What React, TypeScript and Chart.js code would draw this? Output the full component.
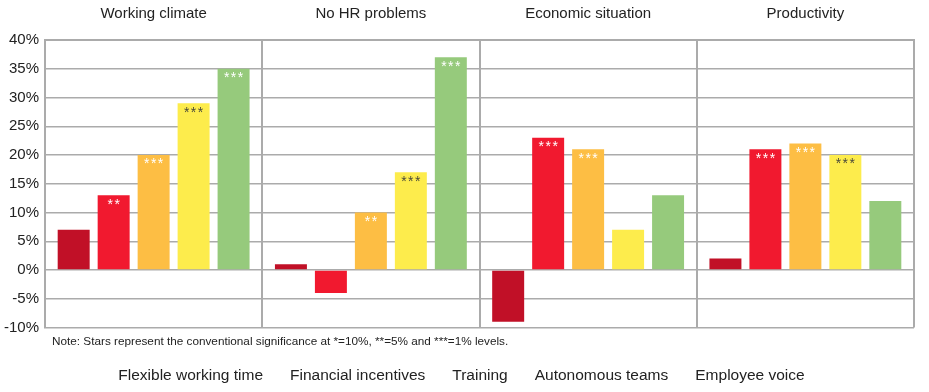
import React, { useEffect, useRef } from "react";
import { Chart, registerables } from "chart.js";

Chart.register(...registerables);

const groups = ["Working climate", "No HR problems", "Economic situation", "Productivity"];
const seriesNames = ["Flexible working time", "Financial incentives", "Training", "Autonomous teams", "Employee voice"];
const seriesColors = ["#C11027", "#F1192F", "#FDBE44", "#FDEC4C", "#96CA7C"];
const flexibleWorkingTime = [7, 1, -9, 2];
const financialIncentives = [13, -4, 23, 21];
const training = [20, 10, 21, 22];
const autonomousTeams = [29, 17, 7, 20];
const employeeVoice = [35, 37, 13, 12];
const seriesValues = [flexibleWorkingTime, financialIncentives, training, autonomousTeams, employeeVoice];
const stars = [
  ["", "", "", ""],
  ["**", "", "***", "***"],
  ["***", "**", "***", "***"],
  ["***", "***", "", "***"],
  ["***", "***", "", ""],
];
const starColors = ["#ffffff", "#ffffff", "#ffffff", "#4a4a3a", "#ffffff"];
const yTicks = { min: -10, max: 40, step: 5 };
const note = "Note: Stars represent the conventional significance at *=10%, **=5% and ***=1% levels.";

const FONT = "'Liberation Sans', Arial, sans-serif";
const GRID = "#ababab";
const TEXT = "#222";

const starPlugin = {
  id: "stars",
  afterDatasetsDraw(chart: any) {
    const ctx = chart.ctx;
    ctx.save();
    ctx.font = `14px ${FONT}`;
    ctx.textAlign = "center";
    ctx.textBaseline = "top";
    try { (ctx as any).letterSpacing = "1.5px"; } catch (e) {}
    chart.data.datasets.forEach((ds: any, i: number) => {
      const meta = chart.getDatasetMeta(i);
      meta.data.forEach((el: any, j: number) => {
        const s = stars[i][j];
        if (!s) return;
        ctx.fillStyle = starColors[i];
        ctx.fillText(s, el.x + 0.75, el.y + 2.5);
      });
    });
    ctx.restore();
  },
};

const notePlugin = {
  id: "noteAndLegend",
  afterDraw(chart: any) {
    const ctx = chart.ctx;
    const area = chart.chartArea;
    ctx.save();
    ctx.fillStyle = TEXT;
    ctx.textBaseline = "middle";
    ctx.textAlign = "left";
    ctx.font = `11.75px ${FONT}`;
    ctx.fillText(note, area.left + 7, area.bottom + 14);
    // legend (text only)
    ctx.font = `15.5px ${FONT}`;
    const gap = 27;
    const widths = seriesNames.map((n) => ctx.measureText(n).width);
    const total = widths.reduce((a, b) => a + b, 0) + gap * (seriesNames.length - 1);
    let x = chart.width / 2 - 3 - total / 2;
    seriesNames.forEach((n, i) => {
      ctx.fillText(n, x, area.bottom + 48.5);
      x += widths[i] + gap;
    });
    ctx.restore();
  },
};

export default function App() {
  const ref = useRef<HTMLCanvasElement>(null);
  useEffect(() => {
    document.body.style.margin = "0";
    const chart = new Chart(ref.current!, {
      type: "bar",
      data: {
        labels: groups,
        datasets: seriesNames.map((name, i) => ({
          label: name,
          data: seriesValues[i],
          backgroundColor: seriesColors[i],
          borderWidth: 0,
          barPercentage: 0.8,
          categoryPercentage: 0.92,
        })),
      },
      options: {
        animation: false,
        responsive: false,
        maintainAspectRatio: false,
        layout: { padding: { left: 0, right: 15, top: 0, bottom: 64.5 } },
        scales: {
          x: {
            position: "top",
            grid: { offset: true, color: GRID, lineWidth: 2, drawTicks: false },
            border: { display: true, color: GRID, width: 2 },
            ticks: { font: { family: FONT, size: 15 }, color: TEXT, padding: 17 },
            afterFit(scale: any) { scale.height = 40; },
          },
          y: {
            min: yTicks.min,
            max: yTicks.max,
            ticks: {
              stepSize: yTicks.step,
              callback: (v: any) => v + "%",
              font: { family: FONT, size: 15 },
              color: TEXT,
              padding: 6,
            },
            grid: { color: GRID, lineWidth: 1.5, drawTicks: false },
            border: { display: true, color: GRID, width: 2 },
            afterFit(scale: any) { scale.width = 45; },
          },
        },
        plugins: {
          tooltip: { enabled: false },
          legend: { display: false },
        },
      },
      plugins: [starPlugin, notePlugin],
    });
    return () => chart.destroy();
  }, []);
  return (
    <div style={{ width: 929, height: 392, background: "#fff" }}>
      <canvas ref={ref} width={929} height={392} style={{ display: "block" }} />
    </div>
  );
}
